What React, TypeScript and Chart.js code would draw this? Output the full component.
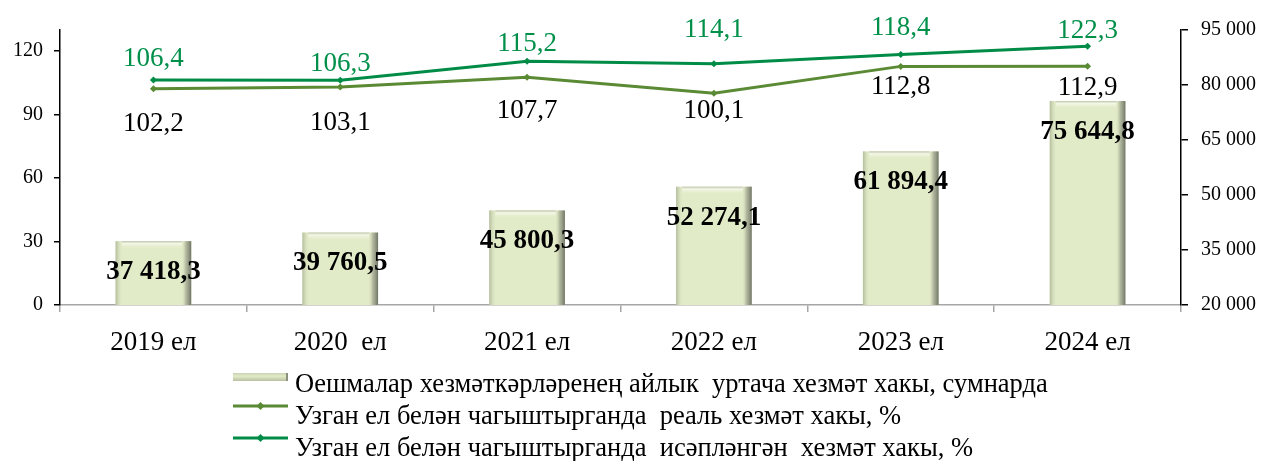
import React, { useEffect, useRef } from "react";
import { Chart, registerables } from "chart.js";

Chart.register(...registerables);

// ---------- data ----------
const categories = ["2019 ел", "2020  ел", "2021 ел", "2022 ел", "2023 ел", "2024 ел"];
const avgWage = [37418.3, 39760.5, 45800.3, 52274.1, 61894.4, 75644.8];
const realWageIndex = [102.2, 103.1, 107.7, 100.1, 112.8, 112.9];
const nominalWageIndex = [106.4, 106.3, 115.2, 114.1, 118.4, 122.3];
const leftTicks = [0, 30, 60, 90, 120];
const rightTicks = [20000, 35000, 50000, 65000, 80000, 95000];
const seriesNames = [
  "Оешмалар хезмәткәрләренең айлык  уртача хезмәт хакы, сумнарда",
  "Узган ел белән чагыштырганда  реаль хезмәт хакы, %",
  "Узган ел белән чагыштырганда  исәпләнгән  хезмәт хакы, %",
];

// ---------- styles ----------
const FONT = '"Liberation Serif", "Times New Roman", serif';
const BAR_FILL = "#E2EBC8";
const REAL_COLOR = "#5B8A34";
const NOMINAL_COLOR = "#008C47";
const NOMINAL_LABEL_COLOR = "#00904A";
// vertical offsets (px) of line value labels from their points (manual placement as in the original)
const realLabelDy = [33, 34, 32, 16, 19, 20];
const nominalLabelDy = [-23, -18, -19, -36, -28, -17];
const barLabelDy = 29;

const fmt = (v: number, dec: number) => {
  const [i, f] = v.toFixed(dec).split(".");
  const s = i.replace(/\B(?=(\d{3})+(?!\d))/g, " ");
  return f ? s + "," + f : s;
};

const bevelPlugin = {
  id: "bevel",
  afterDatasetDraw(chart: any, args: any) {
    if (args.index !== 0) return;
    const ctx = chart.ctx;
    const b = chart.chartArea.bottom;
    ctx.save();
    args.meta.data.forEach((el: any) => {
      const x = el.x;
      const t = el.y;
      const width = el.width;
      const l = x - width / 2;
      const r = x + width / 2;
      let g = ctx.createLinearGradient(l, 0, l + 7, 0);
      g.addColorStop(0, "rgba(175,184,152,0.95)");
      g.addColorStop(1, "rgba(226,235,200,0)");
      ctx.fillStyle = g;
      ctx.fillRect(l, t, 7, b - t);
      g = ctx.createLinearGradient(r - 10, 0, r, 0);
      g.addColorStop(0, "rgba(226,235,200,0)");
      g.addColorStop(0.45, "rgba(170,176,152,0.8)");
      g.addColorStop(1, "rgba(112,118,102,1)");
      ctx.fillStyle = g;
      ctx.fillRect(r - 10, t, 10, b - t);
      g = ctx.createLinearGradient(0, t, 0, t + 8);
      g.addColorStop(0, "rgba(190,196,172,1)");
      g.addColorStop(0.3, "rgba(244,248,232,1)");
      g.addColorStop(1, "rgba(226,235,200,0)");
      ctx.fillStyle = g;
      ctx.fillRect(l + 6, t, width - 15, 8);
    });
    ctx.restore();
  },
};

const labelsPlugin = {
  id: "valueLabels",
  afterDatasetsDraw(chart: any) {
    const ctx = chart.ctx;
    ctx.save();
    ctx.textAlign = "center";
    ctx.textBaseline = "alphabetic";
    const size1 = 27;
    ctx.font = `bold ${size1}px ${FONT}`;
    ctx.fillStyle = "#000";
    chart.getDatasetMeta(0).data.forEach((el: any, i: number) => {
      ctx.fillText(fmt(avgWage[i], 1), el.x, el.y + barLabelDy + size1 * 0.33);
    });
    const size2 = 27;
    ctx.font = `${size2}px ${FONT}`;
    chart.getDatasetMeta(1).data.forEach((el: any, i: number) => {
      ctx.fillStyle = "#000";
      ctx.fillText(fmt(realWageIndex[i], 1), el.x, el.y + realLabelDy[i] + size2 * 0.33);
    });
    chart.getDatasetMeta(2).data.forEach((el: any, i: number) => {
      ctx.fillStyle = NOMINAL_LABEL_COLOR;
      ctx.fillText(fmt(nominalWageIndex[i], 1), el.x, el.y + nominalLabelDy[i] + size2 * 0.33);
    });
    ctx.restore();
  },
};

const legendPlugin = {
  id: "customLegend",
  afterDraw(chart: any) {
    const ctx = chart.ctx;
    const bottom = chart.chartArea.bottom;
    const rows = [bottom + 78, bottom + 110, bottom + 142];
    const x0 = 233;
    const x1 = 288;
    const tx = 295;
    const size = 26.5;
    ctx.save();
    const cy = rows[0] - 6;
    const g = ctx.createLinearGradient(0, cy - 4, 0, cy + 4);
    g.addColorStop(0, "#C9D1B2");
    g.addColorStop(0.4, BAR_FILL);
    g.addColorStop(1, "#B8C0A0");
    ctx.fillStyle = g;
    ctx.fillRect(x0, cy - 4, x1 - x0, 8);
    ctx.fillStyle = "#8A907C";
    ctx.fillRect(x1 - 2, cy - 4, 2, 8);
    const lineColors = [REAL_COLOR, NOMINAL_COLOR];
    [1, 2].forEach((r, k) => {
      const y = rows[r] - 9;
      ctx.strokeStyle = lineColors[k];
      ctx.lineWidth = 3;
      ctx.beginPath();
      ctx.moveTo(x0, y);
      ctx.lineTo(x1, y);
      ctx.stroke();
      ctx.fillStyle = lineColors[k];
      const cx = (x0 + x1) / 2;
      ctx.beginPath();
      ctx.moveTo(cx, y - 4);
      ctx.lineTo(cx + 4, y);
      ctx.lineTo(cx, y + 4);
      ctx.lineTo(cx - 4, y);
      ctx.closePath();
      ctx.fill();
    });
    ctx.font = `${size}px ${FONT}`;
    ctx.fillStyle = "#000";
    ctx.textAlign = "left";
    ctx.textBaseline = "alphabetic";
    seriesNames.forEach((name, i) => {
      ctx.fillText(name, tx, rows[i] + size * 0.33);
    });
    ctx.restore();
  },
};

export default function App() {
  const ref = useRef<HTMLCanvasElement>(null);
  useEffect(() => {
    const chart = new Chart(ref.current as HTMLCanvasElement, {
      type: "bar",
      data: {
        labels: categories,
        datasets: [
          {
            type: "bar",
            label: seriesNames[0],
            data: avgWage,
            yAxisID: "y2",
            backgroundColor: BAR_FILL,
            borderWidth: 0,
            barPercentage: 0.405,
            categoryPercentage: 1,
            order: 3,
          } as any,
          {
            type: "line",
            label: seriesNames[1],
            data: realWageIndex,
            yAxisID: "y",
            borderColor: REAL_COLOR,
            backgroundColor: REAL_COLOR,
            borderWidth: 3,
            pointStyle: "rectRot",
            pointRadius: 3.5,
            pointBorderWidth: 0,
            tension: 0,
            order: 2,
          } as any,
          {
            type: "line",
            label: seriesNames[2],
            data: nominalWageIndex,
            yAxisID: "y",
            borderColor: NOMINAL_COLOR,
            backgroundColor: NOMINAL_COLOR,
            borderWidth: 3,
            pointStyle: "rectRot",
            pointRadius: 3.5,
            pointBorderWidth: 0,
            tension: 0,
            order: 1,
          } as any,
        ],
      },
      options: {
        responsive: false,
        maintainAspectRatio: false,
        animation: false,
        layout: { padding: { top: 30, bottom: 96, left: 0, right: 0 } },
        plugins: {
          legend: { display: false },
          tooltip: { enabled: false },
        },
        scales: {
          x: {
            grid: { offset: true, drawOnChartArea: false, color: "#A6A6A6", tickLength: 7, lineWidth: 1.5 },
            border: { color: "#A6A6A6", width: 1.5 },
            ticks: { font: { family: FONT, size: 27 }, color: "#000", padding: 15, maxRotation: 0, autoSkip: false },
            afterFit: (s: any) => {
              s.height = 60;
            },
          },
          y: {
            position: "left",
            min: 0,
            max: 130,
            afterBuildTicks: (s: any) => {
              s.ticks = leftTicks.map((v) => ({ value: v }));
            },
            grid: { drawOnChartArea: false, color: "#000", tickLength: 6, lineWidth: 1.5 },
            border: { color: "#000", width: 1.5 },
            ticks: { font: { family: FONT, size: 20 }, color: "#000", padding: 11 },
            afterFit: (s: any) => {
              s.width = 60;
            },
          },
          y2: {
            position: "right",
            min: 20000,
            max: 95000,
            afterBuildTicks: (s: any) => {
              s.ticks = rightTicks.map((v) => ({ value: v }));
            },
            grid: { drawOnChartArea: false, color: "#000", tickLength: 7, lineWidth: 1.5 },
            border: { color: "#000", width: 1.5 },
            ticks: {
              font: { family: FONT, size: 20 },
              color: "#000",
              padding: 13,
              callback: (v: any) => fmt(Number(v), 0),
            },
            afterFit: (s: any) => {
              s.width = 81;
            },
          },
        },
      } as any,
      plugins: [bevelPlugin, labelsPlugin, legendPlugin],
    });
    return () => chart.destroy();
  }, []);
  return (
    <div style={{ position: "fixed", left: 0, top: 0, width: 1262, height: 461, background: "#fff" }}>
      <canvas ref={ref} width={1262} height={461} style={{ display: "block", width: 1262, height: 461 }} />
    </div>
  );
}
